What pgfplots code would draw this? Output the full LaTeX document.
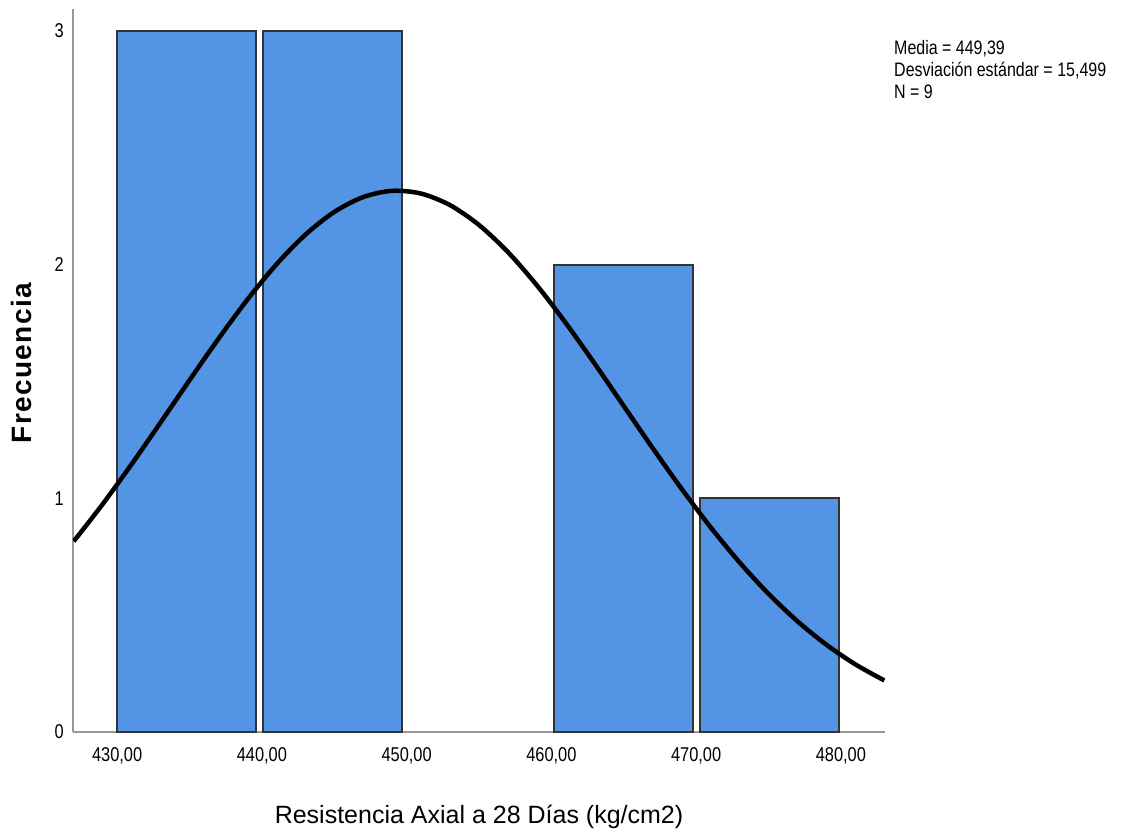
\documentclass[border=0pt]{standalone}
\usepackage{pgfplots}
\pgfplotsset{compat=1.18}
\usepackage{fontspec}
\setmainfont{Liberation Sans}
\newfontfamily\narrowfont[FakeStretch=0.82]{Liberation Sans}
\definecolor{barblue}{RGB}{84,148,228}
\begin{document}
\begin{tikzpicture}
\path[use as bounding box] (-73pt,-104pt) rectangle (1052pt,732pt);
\begin{axis}[
  scale only axis, width=812pt, height=723pt,
  at={(0pt,0pt)}, anchor=south west,
  xmin=426.95, xmax=483.05, ymin=0, ymax=3.094,
  axis lines*=left,
  axis line style={draw=black!40, line width=1.3pt},
  xtick={430,440,450,460,470,480},
  xticklabels={{430,00},{440,00},{450,00},{460,00},{470,00},{480,00}},
  ytick={0,1,2,3},
  major tick length=0pt,
  /pgf/number format/assume math mode=true,
  tick label style={font=\narrowfont\fontsize{20}{20}\selectfont, inner sep=0pt},
  xticklabel style={yshift=-15pt},
  yticklabel style={xshift=-9pt},
  xlabel={Resistencia Axial a 28 Días (kg/cm2)},
  xlabel style={at={(axis description cs:0.5,-0.1259)}, anchor=base, font=\fontsize{25}{25}\selectfont},
  ylabel={Frecuencia},
  ylabel style={at={(axis description cs:-0.0505,0.51)}, anchor=base, font=\bfseries\fontsize{28}{28}\selectfont\addfontfeatures{LetterSpace=5}},
]
\addplot[ybar, bar width=9.6, bar shift=0pt, fill=barblue, draw=black!80, line width=2pt]
  coordinates {(434.8,3) (444.9,3) (465.0,2) (475.1,1)};
\addplot[smooth, black, line width=4.5pt] coordinates {
(427,0.8160) (429,0.9751) (431,1.1459) (433,1.3244) (435,1.5055) (437,1.6830)
(439,1.8504) (441,2.0009) (443,2.1279) (445,2.2255) (447,2.2892) (449,2.3159)
(451,2.3041) (453,2.2546) (455,2.1697) (457,2.0536) (459,1.9115) (461,1.7499)
(463,1.5755) (465,1.3950) (467,1.2149) (469,1.0405) (471,0.8764) (473,0.7260)
(475,0.5915) (477,0.4740) (479,0.3735) (481,0.2895) (483,0.2207)};
\end{axis}
\node[anchor=base west, inner sep=0pt, font=\narrowfont\fontsize{19.5}{20}\selectfont] at (821pt,677pt) {Media = 449,39};
\node[anchor=base west, inner sep=0pt, font=\narrowfont\fontsize{19.5}{20}\selectfont] at (821pt,655pt) {Desviación estándar = 15,499};
\node[anchor=base west, inner sep=0pt, font=\narrowfont\fontsize{19.5}{20}\selectfont] at (821pt,633pt) {N = 9};
\end{tikzpicture}
\end{document}
